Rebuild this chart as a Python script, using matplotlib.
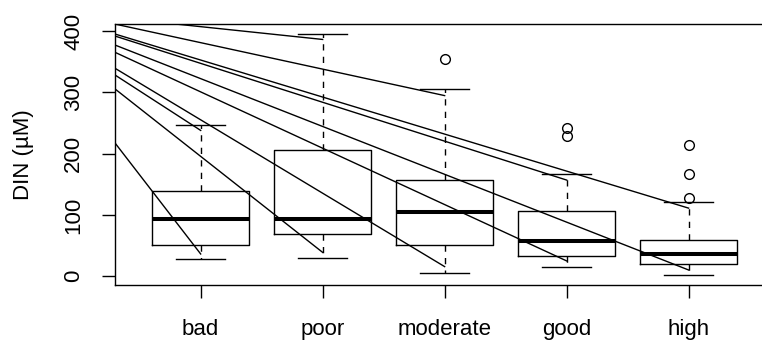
import matplotlib
matplotlib.use("Agg")
import matplotlib.pyplot as plt

# box statistics per class
classes = ["bad", "poor", "moderate", "good", "high"]
q1 = [50.5, 69.0, 50.5, 33.6, 20.1]
medians = [93.0, 93.0, 105.0, 58.0, 36.4]
q3 = [139.6, 206.0, 157.0, 106.5, 59.7]
whisk_lo = [28.2, 30.3, 5.9, 15.7, 1.6]
whisk_hi = [246.7, 395.6, 304.9, 167.3, 120.7]
outliers = [[], [], [353.8], [241.3, 229.3], [213.6, 166.8, 127.2]]

# overlaid lines: value at the left edge of the plot -> value at a class
line_start = [421.9, 411.4, 395.1, 391.8, 377.1, 365.2, 339.1, 328.1, 305.3, 216.9]
line_end_class = [2, 3, 5, 4, 5, 4, 3, 1, 2, 1]
line_end = [386.4, 294.8, 111.2, 157.0, 10.3, 25.1, 15.8, 238.0, 39.0, 36.4]


def main():
    plt.rcParams["font.family"] = ["Liberation Sans", "DejaVu Sans"]
    fig = plt.figure(figsize=(7.62, 3.42), dpi=100)
    ax = fig.add_axes([0.1513, 0.1658, 0.8644, 0.764])

    stats = []
    for i in range(len(classes)):
        stats.append({"q1": q1[i], "med": medians[i], "q3": q3[i],
                      "whislo": whisk_lo[i], "whishi": whisk_hi[i],
                      "fliers": outliers[i]})

    ax.bxp(stats, positions=range(1, 6), widths=0.8, capwidths=0.4,
           showfliers=True,
           boxprops=dict(color="black", lw=1.0),
           medianprops=dict(color="black", lw=2.9, solid_capstyle="butt"),
           whiskerprops=dict(color="black", lw=1.0, linestyle=(0, (4.5, 4.5))),
           capprops=dict(color="black", lw=1.0),
           flierprops=dict(marker="o", markerfacecolor="none",
                           markeredgecolor="black", markersize=7, mew=1.0))

    x0 = 0.3
    for s, c, e in zip(line_start, line_end_class, line_end):
        ax.plot([x0, c], [s, e], color="black", lw=1.0, zorder=3)

    ax.set_xlim(0.3, 5.7)
    ax.set_ylim(-14.7, 411.6)
    ax.set_xticks(range(1, 6))
    ax.set_xticklabels(classes)
    ax.set_yticks([0, 100, 200, 300, 400])
    ax.tick_params(axis="both", length=9.4, width=1.0, labelsize=16, colors="black")
    ax.tick_params(axis="x", pad=15)
    ax.tick_params(axis="y", pad=13)
    plt.setp(ax.get_yticklabels(), rotation=90, va="center")
    for sp in ax.spines.values():
        sp.set_linewidth(1.0)

    ax.set_ylabel("DIN (µM)", fontsize=16, rotation=90, ha="center", va="center")
    ax.yaxis.set_label_coords(-0.1401, 0.5)

    fig.savefig("out.png", dpi=100)


if __name__ == "__main__":
    main()
